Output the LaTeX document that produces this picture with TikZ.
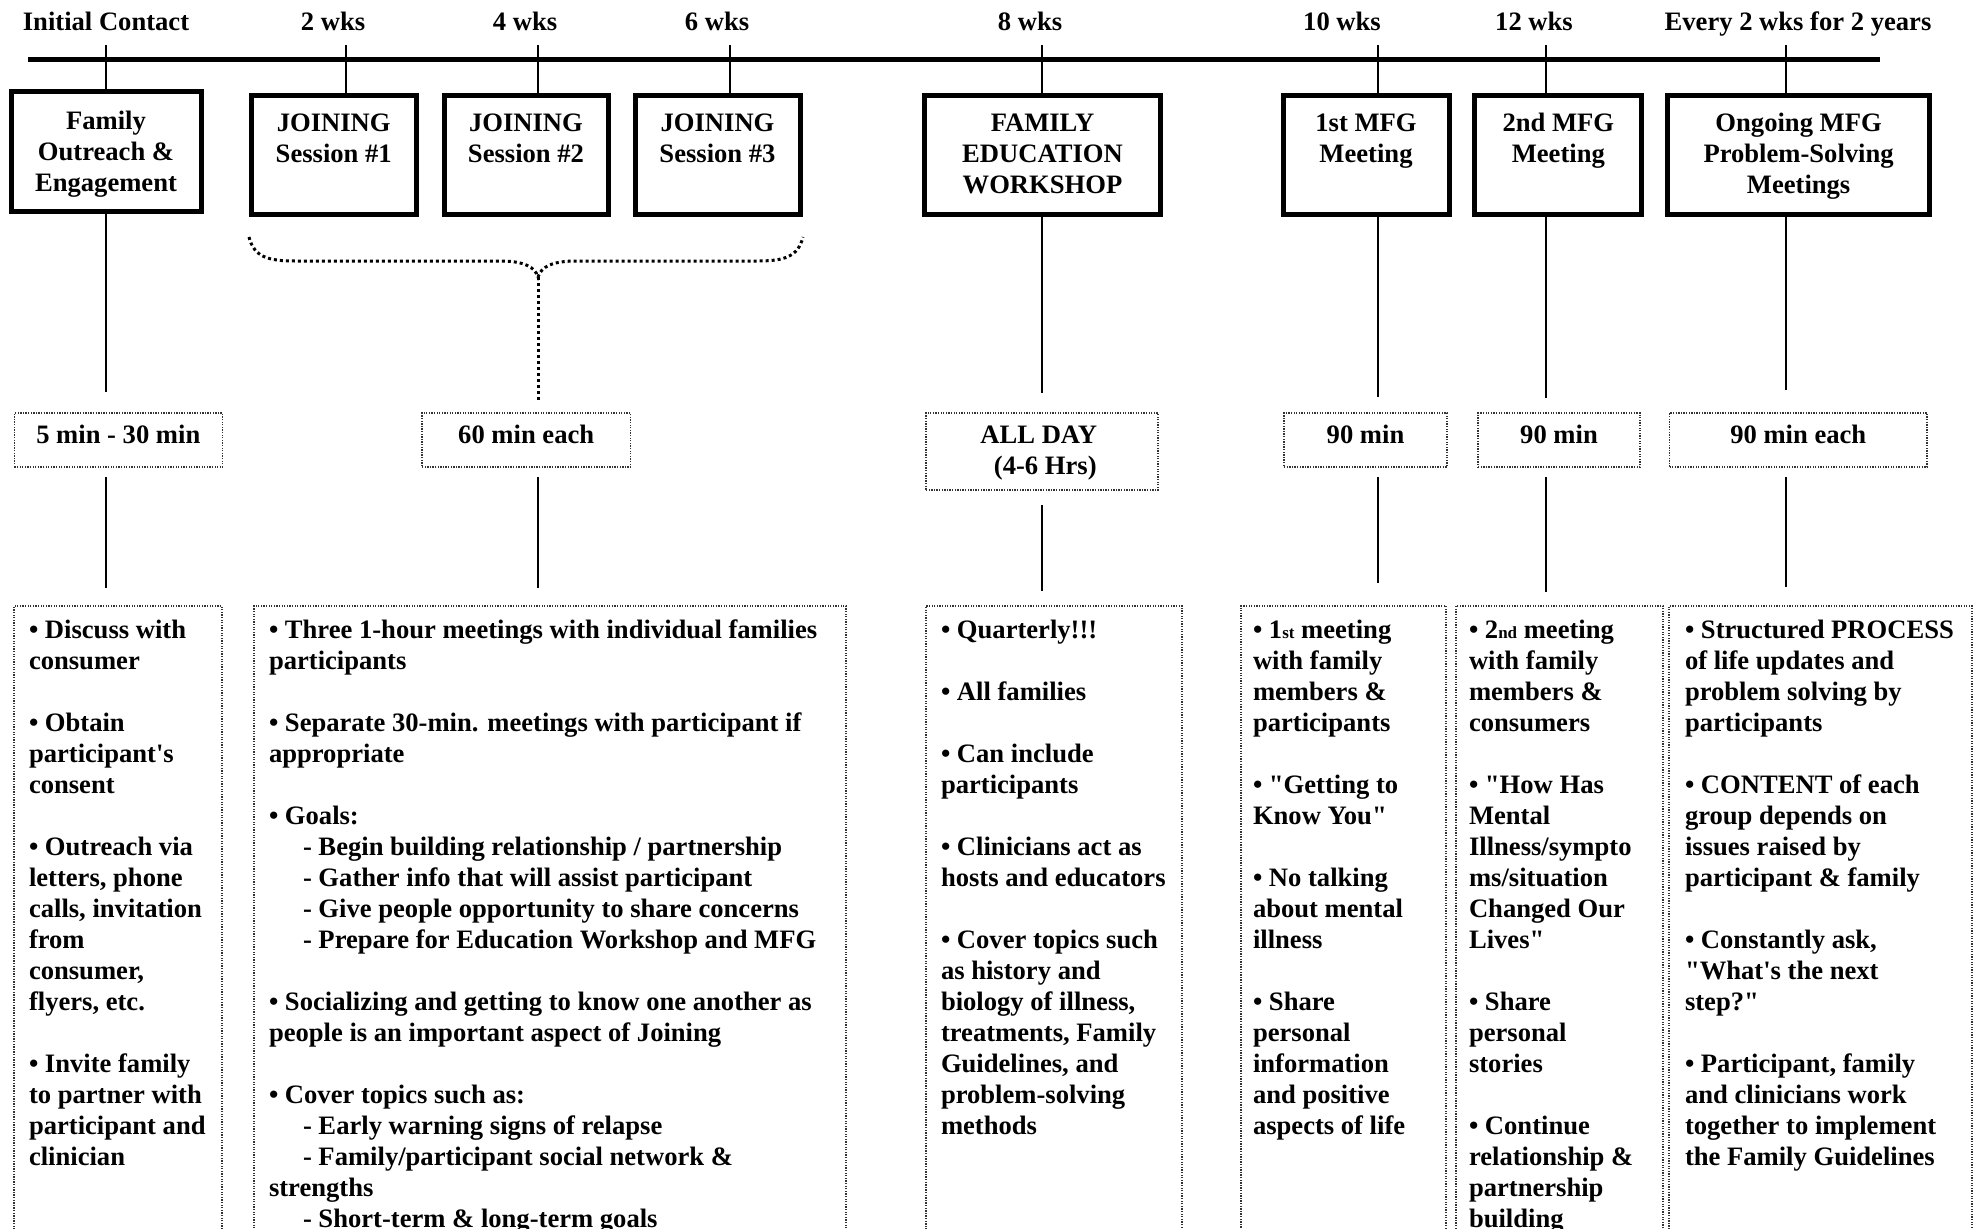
\documentclass[tikz,border=0pt]{standalone}
\usepackage{fontspec}
\setmainfont{Liberation Serif}[Ligatures=TeXOff]
\newcommand\smsuf[1]{{\fontsize{17}{31}\selectfont #1}}
\newcommand\dashind{\hspace*{34pt}}
\begin{document}
\begin{tikzpicture}[x=1pt,y=-1pt,
  txt/.style={font=\fontsize{26.6}{31}\selectfont\bfseries, inner sep=0pt, outer sep=0pt},
  lbl/.style={txt, anchor=base},
  boxtext/.style={txt, anchor=north, align=center},
  coltext/.style={txt, anchor=north west, align=left},
  topbox/.style={draw, line width=5pt, inner sep=0pt, outer sep=0pt},
  durbox/.style={draw=black!80, line width=1.2pt, dash pattern=on 1.3pt off 1.3pt, inner sep=0pt, outer sep=0pt},
  colbox/.style={durbox, anchor=north west, minimum height=800pt},
  tickline/.style={line width=2.5pt},
  conn/.style={line width=2.5pt},
  dotline/.style={line width=3pt, dash pattern=on 3pt off 3pt},
]
\useasboundingbox (0,0) rectangle (1979,1229);
\clip (0,0) rectangle (1979,1229);
\fill[white] (0,0) rectangle (1979,1229);

% timeline
\coordinate (tlA) at (28,59.5);
\coordinate (tlB) at (1880,59.5);
\draw[line width=5pt] (tlA) -- (tlB);

% labels
\node[lbl] (l1) at (106,30) {Initial Contact};
\node[lbl] (l2) at (333,30) {2 wks};
\node[lbl] (l3) at (525,30) {4 wks};
\node[lbl] (l4) at (717,30) {6 wks};
\node[lbl] (l5) at (1030,30) {8 wks};
\node[lbl] (l6) at (1342,30) {10 wks};
\node[lbl] (l7) at (1534,30) {12 wks};
\node[lbl] (l8) at (1798,30) {Every 2 wks for 2 years};

% tick coordinates
\coordinate (t1) at (106,45);
\coordinate (t2) at (346,45);
\coordinate (t3) at (538,45);
\coordinate (t4) at (730,45);
\coordinate (t5) at (1042,45);
\coordinate (t6) at (1378,45);
\coordinate (t7) at (1546,45);
\coordinate (t8) at (1786,45);

% top boxes
\node[topbox, minimum width=190pt, minimum height=120pt] (b1) at (106,151.5) {};
\node[topbox, minimum width=165.5pt, minimum height=119.5pt] (b2) at (333.75,154.75) {};
\node[topbox, minimum width=164pt, minimum height=119.5pt] (b3) at (526,154.75) {};
\node[topbox, minimum width=165pt, minimum height=119.5pt] (b4) at (717.5,154.75) {};
\node[topbox, minimum width=236pt, minimum height=119.5pt] (b5) at (1042.5,154.75) {};
\node[topbox, minimum width=166pt, minimum height=119.5pt] (b6) at (1366,154.75) {};
\node[topbox, minimum width=166.7pt, minimum height=119.5pt] (b7) at (1558.3,154.75) {};
\node[topbox, minimum width=261.8pt, minimum height=119.5pt] (b8) at (1798.6,154.75) {};

\node[boxtext] (bt1) at (106,107.3) {\strut Family\\Outreach \&\\Engagement};
\node[boxtext] (bt2) at (333.75,109.5) {\strut JOINING\\Session \#1};
\node[boxtext] (bt3) at (526,109.5) {\strut JOINING\\Session \#2};
\node[boxtext] (bt4) at (717.5,109.5) {\strut JOINING\\Session \#3};
\node[boxtext] (bt5) at (1042.5,109.5) {\strut FAMILY\\EDUCATION\\WORKSHOP};
\node[boxtext] (bt6) at (1366,109.5) {\strut 1st MFG\\Meeting};
\node[boxtext] (bt7) at (1558.3,109.5) {\strut 2nd MFG\\Meeting};
\node[boxtext] (bt8) at (1798.6,109.5) {\strut Ongoing MFG\\Problem-Solving\\Meetings};

% ticks
\draw[tickline] (t1) -- (t1 |- b1.north);
\draw[tickline] (t2) -- (t2 |- b2.north);
\draw[tickline] (t3) -- (t3 |- b3.north);
\draw[tickline] (t4) -- (t4 |- b4.north);
\draw[tickline] (t5) -- (t5 |- b5.north);
\draw[tickline] (t6) -- (t6 |- b6.north);
\draw[tickline] (t7) -- (t7 |- b7.north);
\draw[tickline] (t8) -- (t8 |- b8.north);

% duration boxes
\node[durbox, minimum width=208pt, minimum height=54pt] (d1) at (118.3,440) {};
\node[durbox, minimum width=208.4pt, minimum height=54pt] (d2) at (526.2,440) {};
\node[durbox, minimum width=232pt, minimum height=77pt] (d3) at (1042,451.5) {};
\node[durbox, minimum width=163pt, minimum height=54pt] (d4) at (1365.5,440) {};
\node[durbox, minimum width=162pt, minimum height=54pt] (d5) at (1559,440) {};
\node[durbox, minimum width=257.5pt, minimum height=54pt] (d6) at (1798.25,440) {};

\node[lbl] (dt1) at (118.3,443) {5 min - 30 min};
\node[lbl] (dt2) at (526.2,443) {60 min each};
\node[boxtext] (dt3) at (1042,421.3) {\strut ALL DAY\hspace*{6.6pt}\\\hspace*{6.6pt}(4-6 Hrs)};
\node[lbl] (dt4) at (1365.5,443) {90 min};
\node[lbl] (dt5) at (1559,443) {90 min};
\node[lbl] (dt6) at (1798.25,443) {90 min each};

% brace under joining sessions
\coordinate (brL) at (249,237);
\coordinate (brR) at (803,237);
\coordinate (brT) at (538,277);
\draw[dotline] (brL) .. controls (254,257) and (268,261) .. (295,261)
  -- (500,261) .. controls (524,261) and (535,267) .. (brT)
  .. controls (541,267) and (552,261) .. (576,261)
  -- (757,261) .. controls (784,261) and (798,257) .. (brR);
\draw[dotline] (brT) -- ([yshift=12pt]d2.north -| brT);

% connectors top boxes -> duration boxes
\draw[conn, shorten >=21pt] (b1.south -| t1) -- (d1.north -| t1);
\draw[conn, shorten >=20pt] (b5.south -| t5) -- (d3.north -| t5);
\draw[conn, shorten >=16pt] (b6.south -| t6) -- (d4.north -| t6);
\draw[conn, shorten >=15pt] (b7.south -| t7) -- (d5.north -| t7);
\draw[conn, shorten >=23pt] (b8.south -| t8) -- (d6.north -| t8);

% detail columns
\node[colbox, minimum width=208pt] (e1) at (14,606) {};
\node[colbox, minimum width=592pt] (e2) at (254,606) {};
\node[colbox, minimum width=256pt] (e3) at (926,606) {};
\node[colbox, minimum width=205pt] (e4) at (1241,606) {};
\node[colbox, minimum width=207pt] (e5) at (1456,606) {};
\node[colbox, minimum width=303pt] (e6) at (1669,606) {};

% connectors duration boxes -> detail columns
\draw[conn, shorten <=10pt, shorten >=18pt] (d1.south -| t1) -- (e1.north -| t1);
\draw[conn, shorten <=10pt, shorten >=18pt] (d2.south -| t3) -- (e2.north -| t3);
\draw[conn, shorten <=15pt, shorten >=15pt] (d3.south -| t5) -- (e3.north -| t5);
\draw[conn, shorten <=10pt, shorten >=23pt] (d4.south -| t6) -- (e4.north -| t6);
\draw[conn, shorten <=10pt, shorten >=14pt] (d5.south -| t7) -- (e5.north -| t7);
\draw[conn, shorten <=10pt, shorten >=19pt] (d6.south -| t8) -- (e6.north -| t8);

% column texts
\node[coltext] (c1) at (29,616.3) {\strut• Discuss with\\consumer\\[31pt]%
• Obtain\\participant's\\consent\\[31pt]%
• Outreach via\\letters, phone\\calls, invitation\\from\\consumer,\\flyers, etc.\\[31pt]%
• Invite family\\to partner with\\participant and\\clinician};

\node[coltext] (c2) at (269,616.3) {\strut• Three 1-hour meetings with individual families\\participants\\[31pt]%
• Separate 30-min. meetings with participant if\\appropriate\\[31pt]%
• Goals:\\\dashind- Begin building relationship / partnership\\\dashind- Gather info that will assist participant\\\dashind- Give people opportunity to share concerns\\\dashind- Prepare for Education Workshop and MFG\\[31pt]%
• Socializing and getting to know one another as\\people is an important aspect of Joining\\[31pt]%
• Cover topics such as:\\\dashind- Early warning signs of relapse\\\dashind- Family/participant social network \&\\strengths\\\dashind- Short-term \& long-term goals};

\node[coltext] (c3) at (941,616.3) {\strut• Quarterly!!!\\[31pt]%
• All families\\[31pt]%
• Can include\\participants\\[31pt]%
• Clinicians act as\\hosts and educators\\[31pt]%
• Cover topics such\\as history and\\biology of illness,\\treatments, Family\\Guidelines, and\\problem-solving\\methods};

\node[coltext] (c4) at (1253,616.3) {\strut• 1\smsuf{st} meeting\\with family\\members \&\\participants\\[31pt]%
• "Getting to\\Know You"\\[31pt]%
• No talking\\about mental\\illness\\[31pt]%
• Share\\personal\\information\\and positive\\aspects of life};

\node[coltext] (c5) at (1469,616.3) {\strut• 2\smsuf{nd} meeting\\with family\\members \&\\consumers\\[31pt]%
• "How Has\\Mental\\Illness/sympto\\ms/situation\\Changed Our\\Lives"\\[31pt]%
• Share\\personal\\stories\\[31pt]%
• Continue\\relationship \&\\partnership\\building};

\node[coltext] (c6) at (1685,616.3) {\strut• Structured PROCESS\\of life updates and\\problem solving by\\participants\\[31pt]%
• CONTENT of each\\group depends on\\issues raised by\\participant \& family\\[31pt]%
• Constantly ask,\\"What's the next\\step?"\\[31pt]%
• Participant, family\\and clinicians work\\together to implement\\the Family Guidelines};
\end{tikzpicture}
\end{document}
